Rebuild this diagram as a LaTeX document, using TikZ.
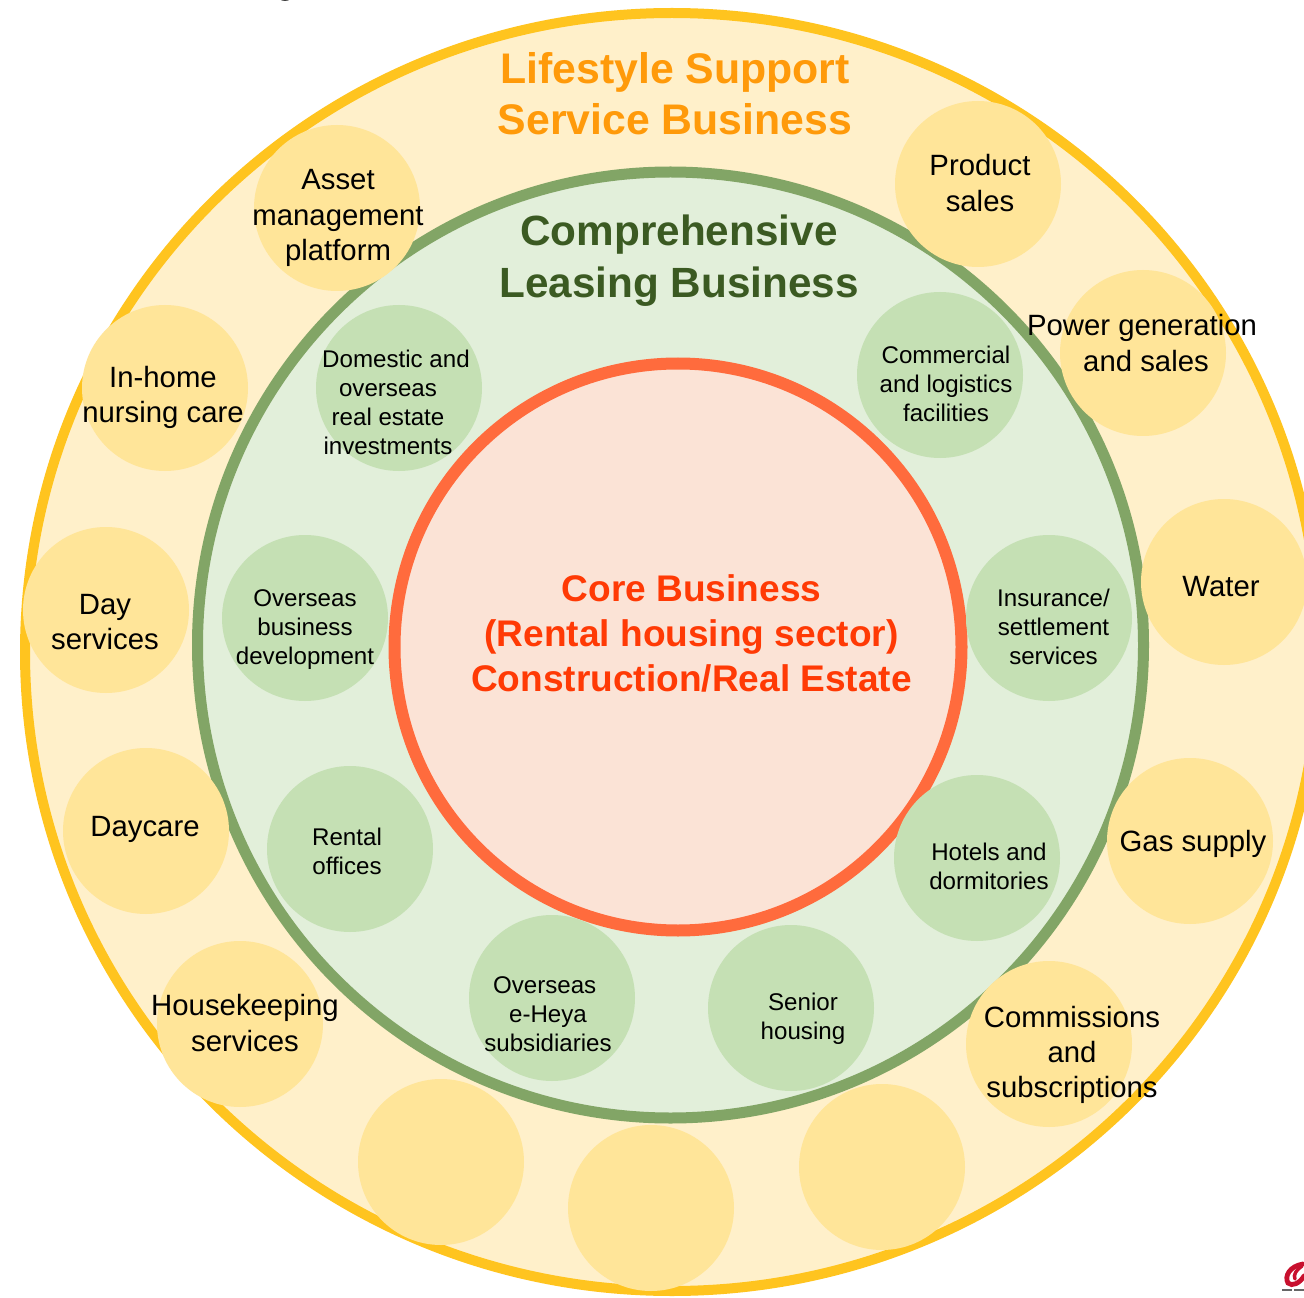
\documentclass[tikz,border=0pt]{standalone}
\usepackage{fontspec}
\setmainfont{Liberation Sans}
\definecolor{outerfill}{HTML}{FFF0CA}
\definecolor{outerline}{HTML}{FFC41F}
\definecolor{midfill}{HTML}{E2EFDA}
\definecolor{midline}{HTML}{82A566}
\definecolor{corefill}{HTML}{FBE3D6}
\definecolor{coreline}{HTML}{FF6B3D}
\definecolor{yb}{HTML}{FFE599}
\definecolor{gb}{HTML}{C5E0B4}
\definecolor{orangetxt}{HTML}{FF9A0A}
\definecolor{greentxt}{HTML}{3B5A22}
\definecolor{redtxt}{HTML}{FF3A05}
\definecolor{logored}{HTML}{C8102E}
\tikzset{
 ybub/.style={circle,fill=yb,minimum size=124.5pt,inner sep=0pt,outer sep=0pt},
 gbub/.style={circle,fill=gb,minimum size=124.5pt,inner sep=0pt,outer sep=0pt},
 lab/.style={align=center,text=black,inner sep=0pt},
 ylab/.style={lab,font=\fontsize{22}{26.5}\selectfont},
 glab/.style={lab,font=\fontsize{18.1}{21.8}\selectfont},
}
\begin{document}
\begin{tikzpicture}[x=0.75pt,y=-0.75pt]
\useasboundingbox (0,0) rectangle (1304,1298);
\fill[white] (0,0) rectangle (1304,1298);
\begin{scope}
\clip (0,0) rectangle (1304,1298);
\draw[draw=outerline,fill=outerfill,line width=7.5pt] (672,652) ellipse[x radius=647,y radius=639];
\draw[draw=midline,fill=midfill,line width=8.25pt] (670.5,645) circle[radius=473];
\draw[draw=coreline,fill=corefill,line width=9pt] (678,647) circle[radius=283.5];
\foreach \n/\x/\y in {y1/337/208,y2/978/184,y3/1143/353,y4/165/388,y5/106/610,y6/1224/582,y7/146/831,y8/1190/841,y9/240/1024,y10/1049/1044,y11/441/1162,y12/651/1208,y13/882/1167}
  \node[ybub] (\n) at (\x,\y) {};
\foreach \n/\x/\y in {g1/399/388,g2/940/375,g3/305/618,g4/1049/618,g5/350/849,g6/977/858,g7/552/998,g8/791/1008}
  \node[gbub] (\n) at (\x,\y) {};
% logo fragment and clipped mark
\draw[logored,line width=3.6pt,line cap=round] (1303,1264) .. controls (1290,1266) and (1284,1276) .. (1288,1283) .. controls (1292,1287) and (1300,1283) .. (1304,1276);
\draw[logored,line width=2.6pt,line cap=round] (1302,1266) .. controls (1296,1270) and (1293,1275) .. (1295,1279);
\fill[gray!80!black] (1282,1289) rectangle (1292,1291);
\fill[gray!80!black] (1294,1289) rectangle (1304,1291);
\fill[black!75] (285,-1) ellipse[x radius=5,y radius=2];
\end{scope}
\node[lab,font=\bfseries\fontsize{32.1}{38}\selectfont,text=orangetxt] (t1) at (675,93.5) {Lifestyle Support\\Service Business};
\node[lab,font=\bfseries\fontsize{31.7}{39}\selectfont,text=greentxt] (t2) at (679,261) {Comprehensive\\Leasing Business};
\node[lab,font=\bfseries\fontsize{27.8}{33.7}\selectfont,text=redtxt] (t3) at (691.5,633.5) {Core Business\\(Rental housing sector)\\Construction/Real Estate};
\node[ylab] (l1) at (338,218) {Asset\\management\\platform};
\node[ylab] (l2) at (980,183) {Product\\sales};
\node[ylab] (l3) at (1142,343) {Power generation\\\hspace*{6pt}and sales};
\node[ylab] (l4) at (163,397.5) {In-home\\nursing care};
\node[ylab] (l5) at (105,622) {Day\\services};
\node[ylab] (l6) at (1221,587) {Water};
\node[ylab] (l7) at (145,829) {Daycare};
\node[ylab] (l8) at (1193,844) {Gas supply};
\node[ylab] (l9) at (245,1023) {Housekeeping\\services};
\node[ylab] (l10) at (1072,1055) {Commissions\\and\hspace*{7pt}\\subscriptions};
\node[glab] (m1) at (388,402) {\hspace*{12pt}Domestic and\\overseas\\real estate\\investments};
\node[glab] (m2) at (946,383.5) {Commercial\\and logistics\\facilities};
\node[glab] (m3) at (305,630) {Overseas\\business\\development};
\node[glab] (m4) at (1053.5,627) {Insurance/\\settlement\\services};
\node[glab] (m5) at (347,851.5) {Rental\\offices};
\node[glab] (m6) at (989,866) {Hotels and\\dormitories};
\node[glab] (m7) at (548,1014) {\hspace*{-5pt}Overseas\\e-Heya\\subsidiaries};
\node[glab] (m8) at (803,1019) {Senior\\housing};
\end{tikzpicture}
\end{document}
